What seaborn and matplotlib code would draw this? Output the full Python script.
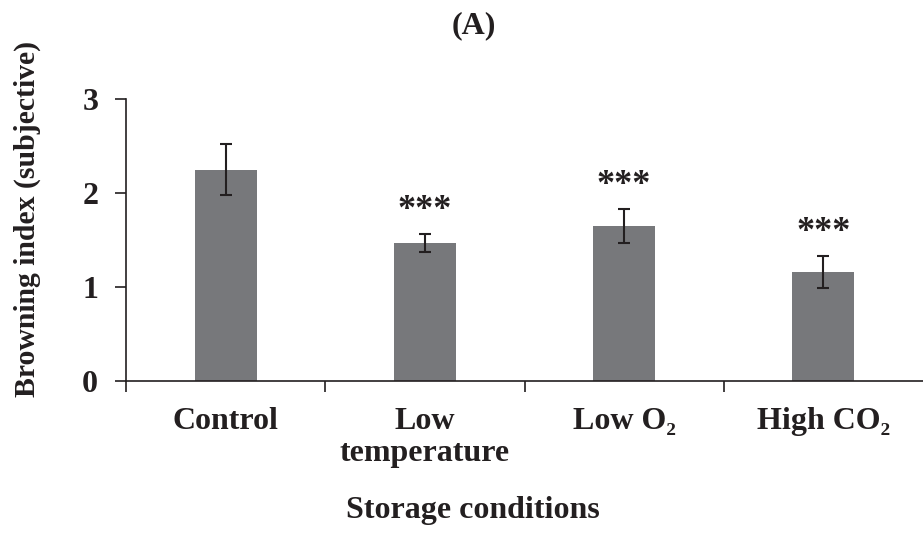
import matplotlib
matplotlib.use("Agg")
import matplotlib.pyplot as plt
import seaborn as sns
import pandas as pd
import numpy as np
from matplotlib.ticker import FixedLocator

categories = ["Control", "Low\ntemperature", "Low O\u2082", "High CO\u2082"]
means = [2.25, 1.465, 1.645, 1.155]
errors = [0.27, 0.095, 0.18, 0.17]
stars = ["", "***", "***", "***"]
yticks = [0, 1, 2, 3]

sns.set_theme(style="ticks")
plt.rcParams["font.family"] = ["Liberation Serif", "DejaVu Serif"]
plt.rcParams["font.weight"] = "bold"

ink = "#231f20"
bar_color = "#77787b"

df = pd.DataFrame({"cond": categories, "value": means})

fig = plt.figure(figsize=(9.23, 5.40), dpi=100)
ax = fig.add_axes([126 / 923, 1 - 381 / 540, 797 / 923, 282 / 540])

sns.barplot(data=df, x="cond", y="value", color=bar_color, saturation=1,
            width=0.31, errorbar=None, ax=ax, edgecolor="none")

xpos = np.arange(len(categories))
ax.errorbar(xpos, means, yerr=errors, fmt="none", ecolor=ink,
            elinewidth=1.5, capsize=4.5, capthick=1.5)

for x, m, e, s in zip(xpos, means, errors, stars):
    if s:
        ax.annotate(s, xy=(x, m + e), xytext=(0, 17), textcoords="offset points",
                    ha="center", va="center", fontsize=26, fontweight="bold",
                    color=ink, family=["Liberation Serif", "DejaVu Serif"])

ax.set_xlim(-0.5, 3.5)
ax.set_ylim(0, 3)
ax.set_yticks(yticks)
ax.set_yticklabels([str(t) for t in yticks], fontsize=23, fontweight="bold", color=ink)
ax.set_xticks(xpos)
ax.set_xticklabels(categories, fontsize=23, fontweight="bold", color=ink, linespacing=1.12)
ax.xaxis.set_minor_locator(FixedLocator([-0.5, 0.5, 1.5, 2.5]))
ax.tick_params(axis="x", which="major", length=0, pad=19)
ax.tick_params(axis="x", which="minor", length=8, width=1.2, color=ink, direction="out")
ax.tick_params(axis="y", length=8, width=1.2, color=ink, direction="out", pad=12)

sns.despine(ax=ax)
for sp in ["left", "bottom"]:
    ax.spines[sp].set_color(ink)
    ax.spines[sp].set_linewidth(1.2)

ax.set_xlabel("")
ax.set_ylabel("Browning index (subjective)", fontsize=21.4, fontweight="bold", color=ink, va="center")
ax.yaxis.set_label_coords((27 - 126) / 797, (381 - 219) / 282)

fig.text(473 / 923, 1 - 518 / 540, "Storage conditions", ha="center", va="baseline",
         fontsize=23, fontweight="bold", color=ink)
fig.text(474 / 923, 1 - 26 / 540, "(A)", ha="center", va="center",
         fontsize=23, fontweight="bold", color=ink)

fig.savefig("out.png", dpi=100)
